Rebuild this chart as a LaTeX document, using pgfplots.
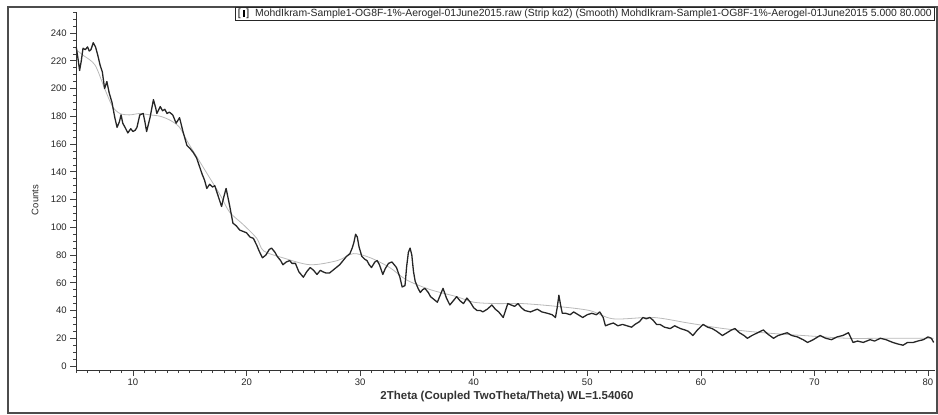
\documentclass[border=0pt]{standalone}
\usepackage{fontspec}
\setmainfont{Liberation Sans}
\usepackage{pgfplots}
\pgfplotsset{compat=1.18}
\begin{document}
\begin{tikzpicture}[x=1pt,y=1pt]
\path[use as bounding box] (0,0) rectangle (938,415);
\draw[line width=1.6pt, black!70] (8,2) rectangle (937.2,408);
\begin{axis}[
  at={(76.2pt,44.8pt)}, anchor=south west,
  scale only axis, width=858.6pt, height=358pt,
  xmin=5, xmax=80.6, ymin=-3, ymax=255,
  axis lines*=left,
  axis line style={line width=0.6pt, black!80},
  xtick={10,20,...,80}, ytick={0,20,...,240},
  minor xtick={5,...,80}, minor ytick={0,5,...,255},
  tick align=outside,
  major tick length=6pt, minor tick length=3pt,
  tick style={line width=0.6pt, black!75},
  /pgf/number format/assume math mode=true,
  ticklabel style={font=\fontsize{9.5}{10}\selectfont, black!85},
  xticklabel style={yshift=1pt},
  clip=false,
]
\addplot[gray!55, line width=0.8pt, smooth] coordinates {
(5.0,228)(5.6,224)(6.65,217)(7.5,200)(8.2,187)(8.85,182)(9.7,181)(10.6,182)
(11.5,181)(12.4,180)(13.3,177)(14.1,172)(14.85,161)(15.9,147)(16.8,135)
(17.7,123)(18.5,111)(19.7,102)(20.9,92)(21.5,83)(23.2,78)(25.6,73)(28.0,76)
(29.4,81)(30.9,78)(32.6,71)(34.1,62)(36.2,55)(38.5,50)(40.0,46)(42.0,45)
(44.3,45)(47.3,43)(50.2,40)(52.3,34)(55.8,35)(58.9,31)(62.0,27)(65.5,24)
(69.0,22)(72.9,20)(76.0,20)(80.5,20)
};
\addplot[black!85, line width=1.3pt, line join=round] coordinates {
(5.0,230)(5.15,222)(5.3,213)(5.45,220)(5.6,229)(5.8,228)(6.0,230)(6.15,227)
(6.3,228)(6.5,233)(6.7,230)(6.9,224)(7.1,217)(7.3,212)(7.5,200)(7.7,205)
(7.9,197)(8.15,190)(8.4,179)(8.6,172)(8.8,176)(8.95,181)(9.1,175)(9.3,172)
(9.55,168)(9.8,171)(10.0,169)(10.2,170)(10.35,172)(10.6,181)(10.9,182)
(11.05,176)(11.2,169)(11.5,179)(11.8,192)(12.0,186)(12.1,182)(12.4,187)
(12.6,184)(12.8,185)(13.0,182)(13.2,183)(13.5,181)(13.8,175)(14.1,179)
(14.4,169)(14.75,159)(15.0,157)(15.3,154)(15.6,150)(15.85,144)(16.1,138)
(16.3,134)(16.5,128)(16.75,131)(17.0,129)(17.2,130)(17.4,125)(17.6,120)
(17.8,115)(18.0,122)(18.2,128)(18.35,122)(18.5,116)(18.8,103)(19.1,101)
(19.4,98)(19.7,97)(20.0,96)(20.3,93)(20.6,92)(20.9,87)(21.1,83)(21.4,78)
(21.7,80)(22.0,84)(22.2,85)(22.5,82)(22.7,79)(23.0,76)(23.2,73)(23.5,75)
(23.8,76)(24.0,74)(24.3,74)(24.6,68)(25.0,64)(25.3,68)(25.6,71)(25.9,69)
(26.2,66)(26.5,69)(26.7,68)(27.0,67)(27.3,67)(27.6,69)(27.9,71)(28.2,73)
(28.5,76)(28.8,79)(29.1,81)(29.3,85)(29.45,89)(29.6,95)(29.75,93)(29.9,86)
(30.15,79)(30.4,77)(30.6,76)(30.8,73)(31.0,71)(31.3,75)(31.5,76)(31.7,73)
(32.0,66)(32.2,70)(32.5,74)(32.8,75)(33.0,73)(33.2,71)(33.5,64)(33.7,57)
(33.95,58)(34.1,72)(34.25,82)(34.4,85)(34.55,80)(34.7,68)(34.85,61)(35.1,56)
(35.3,53)(35.5,55)(35.7,56)(36.0,53)(36.2,50)(36.5,48)(36.8,46)(37.0,50)
(37.3,56)(37.6,49)(37.9,44)(38.2,47)(38.5,50)(38.8,47)(39.1,45)(39.4,49)
(39.7,46)(40.0,42)(40.3,40)(40.6,40)(40.8,39)(41.2,41)(41.6,44)(41.9,41)
(42.2,39)(42.6,35)(42.8,40)(43.0,45)(43.3,44)(43.6,43)(43.9,45)(44.2,42)
(44.5,40)(45.0,39)(45.3,40)(45.6,41)(46.0,39)(46.5,38)(46.9,37)(47.2,35)
(47.35,42)(47.5,51)(47.65,44)(47.8,38)(48.1,38)(48.5,37)(48.8,39)(49.2,37)
(49.6,35)(50.0,37)(50.4,38)(50.8,37)(51.1,39)(51.4,35)(51.6,29)(51.9,30)
(52.3,31)(52.7,29)(53.1,30)(53.5,29)(53.9,28)(54.2,30)(54.6,32)(54.9,35)
(55.2,34)(55.5,35)(55.8,33)(56.1,30)(56.4,30)(56.8,28)(57.3,27)(57.7,29)
(58.2,27)(58.6,26)(58.9,25)(59.3,22)(59.7,26)(60.2,30)(60.6,28)(61.0,27)
(61.4,25)(61.9,22)(62.3,24)(62.7,26)(63.0,27)(63.4,24)(63.8,22)(64.1,20)
(64.5,22)(65.0,24)(65.5,26)(65.9,23)(66.4,20)(66.8,22)(67.2,23)(67.6,24)
(68.0,22)(68.5,21)(69.0,19)(69.4,17)(69.9,19)(70.5,22)(71.0,20)(71.5,19)
(72.0,21)(72.5,22)(73.0,24)(73.4,17)(73.8,18)(74.3,17)(74.9,19)(75.3,18)
(75.8,20)(76.3,19)(76.9,17)(77.3,16)(77.8,15)(78.2,17)(78.7,17)(79.1,18)
(79.6,19)(80.0,21)(80.3,20)(80.5,17)
};
\end{axis}
\node[rotate=90, font=\fontsize{9.5}{10}\selectfont, black!85] at (35,215) {Counts};
\node[font=\bfseries\fontsize{11.5}{12}\selectfont, black!80] at (507,18) {2Theta (Coupled TwoTheta/Theta) WL=1.54060};
\node[draw=black!70, line width=0.6pt, inner xsep=3pt, inner ysep=1.5pt, anchor=east,
  font=\fontsize{10.4}{11}\selectfont, black!85] at (935,401)
  {\textcolor{black}{[\,\rule[-0.5pt]{2pt}{7pt}\,]}\hspace{6pt}MohdIkram-Sample1-OG8F-1\%-Aerogel-01June2015.raw (Strip kα2) (Smooth) MohdIkram-Sample1-OG8F-1\%-Aerogel-01June2015 5.000 80.000};
\end{tikzpicture}
\end{document}
